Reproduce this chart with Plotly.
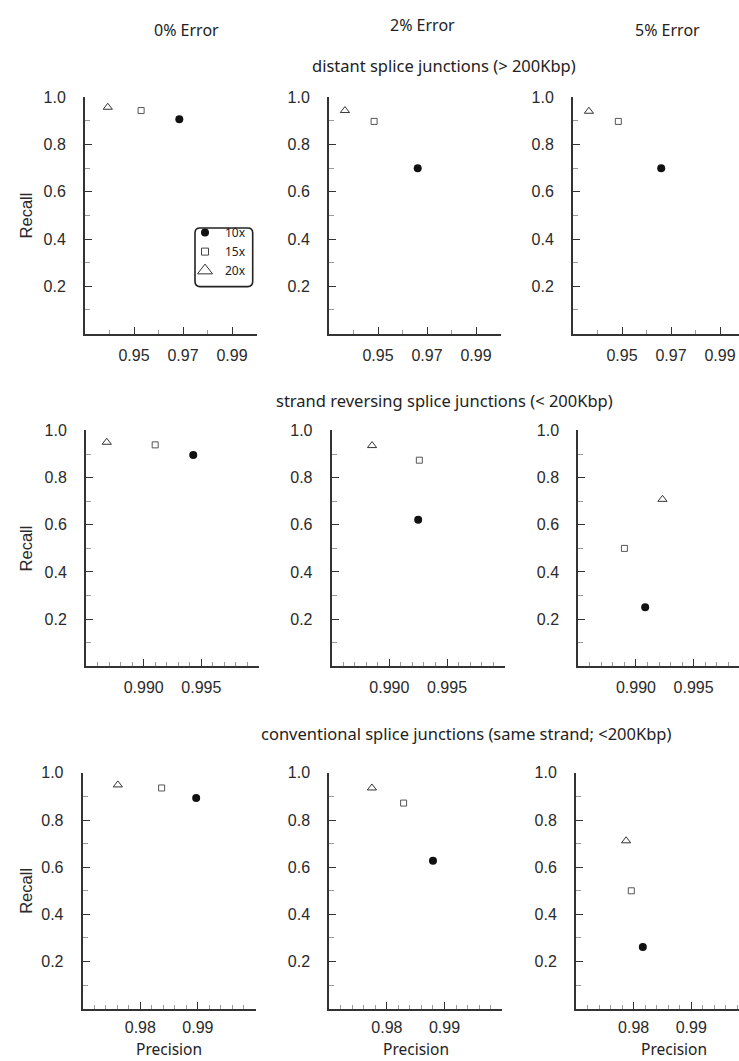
import plotly.graph_objects as go

# ---- data -------------------------------------------------------------
error_levels = ["0% Error", "2% Error", "5% Error"]
junction_types = [
    "distant splice junctions (> 200Kbp)",
    "strand reversing splice junctions (< 200Kbp)",
    "conventional splice junctions (same strand; <200Kbp)",
]
coverages = ["10x", "15x", "20x"]

# precision / recall per junction type (rows) and error level (columns)
precision_10x = [[0.9685, 0.9662, 0.9660], [0.9943, 0.9925, 0.9908], [0.9897, 0.9880, 0.9816]]
recall_10x = [[0.907, 0.700, 0.700], [0.896, 0.621, 0.250], [0.893, 0.627, 0.262]]
precision_15x = [[0.9529, 0.9484, 0.9485], [0.9910, 0.9926, 0.9890], [0.9837, 0.9829, 0.9796]]
recall_15x = [[0.944, 0.898, 0.898], [0.939, 0.874, 0.500], [0.936, 0.872, 0.500]]
precision_20x = [[0.9393, 0.9365, 0.9365], [0.9868, 0.9885, 0.9923], [0.9761, 0.9774, 0.9787]]
recall_20x = [[0.958, 0.944, 0.941], [0.950, 0.936, 0.708], [0.949, 0.936, 0.712]]

# x tick labels per row
x_major = [[0.95, 0.97, 0.99, 1.00], [0.990, 0.995, 1.000], [0.98, 0.99, 1.00]]
x_major_text = [["0.95", "0.97", "0.99", ""], ["0.990", "0.995", ""], ["0.98", "0.99", ""]]
x_minor = [
    [0.94, 0.96, 0.98],
    [0.986, 0.987, 0.988, 0.989, 0.991, 0.992, 0.993, 0.994, 0.996, 0.997, 0.998, 0.999],
    [0.972, 0.974, 0.976, 0.978, 0.982, 0.984, 0.986, 0.988, 0.992, 0.994, 0.996, 0.998],
]
x_start = [0.93, 0.985, 0.97]
x_span = [0.07, 0.015, 0.03]
y_major = [0.2, 0.4, 0.6, 0.8, 1.0]
y_major_text = ["0.2", "0.4", "0.6", "0.8", "1.0"]
y_minor = [0.1, 0.3, 0.5, 0.7, 0.9]

# ---- page geometry (pixels) -------------------------------------------
W, H = 739, 1061
# left pixel edge of each plot area, and pixels per precision unit
col_left = [[85, 329, 573], [86, 331.7, 578.3], [82.7, 329.3, 576]]
px_per_unit = [2450, 11530, 5760]
row_top = [90, 425.7, 770.7]
row_bottom = [328, 663.3, 1008.3]
x_label_standoff = [6, 6, 3]

AXIS = "#333333"
TICKFONT = dict(family="Liberation Sans, Arial, sans-serif", size=16, color="#2a2a2a")
TEXTFONT = dict(family="Noto Sans, Open Sans, sans-serif", size=16.5, color="#222222")

fig = go.Figure()
layout = dict(
    width=W, height=H,
    margin=dict(l=0, r=0, t=0, b=0),
    paper_bgcolor="white", plot_bgcolor="white",
    showlegend=True,
)

series = [
    ("10x", precision_10x, recall_10x, dict(symbol="circle", size=8, color="#111111")),
    ("15x", precision_15x, recall_15x,
     dict(symbol="square-open", size=6, color="#555555", line=dict(width=1))),
    ("20x", precision_20x, recall_20x,
     dict(symbol="triangle-up-open", size=8, color="#333333", line=dict(width=1))),
]

for r in range(3):
    for c in range(3):
        k = r * 3 + c + 1
        xname = "xaxis" if k == 1 else f"xaxis{k}"
        yname = "yaxis" if k == 1 else f"yaxis{k}"
        xs = "x" if k == 1 else f"x{k}"
        ys = "y" if k == 1 else f"y{k}"

        left = col_left[r][c]
        right = min(left + x_span[r] * px_per_unit[r], W)
        x_end = x_start[r] + (right - left) / px_per_unit[r]

        layout[xname] = dict(
            domain=[left / W, right / W], range=[x_start[r], x_end], anchor=ys,
            showline=True, linecolor=AXIS, linewidth=2,
            ticks="inside", ticklen=7, tickwidth=1.3, tickcolor=AXIS,
            tickvals=x_major[r], ticktext=x_major_text[r],
            minor=dict(tickvals=x_minor[r], ticks="inside", ticklen=4,
                       tickwidth=1, tickcolor="#9a9a9a", showgrid=False),
            tickfont=TICKFONT, ticklabelstandoff=x_label_standoff[r],
            showgrid=False, zeroline=False, fixedrange=True,
        )
        layout[yname] = dict(
            domain=[1 - row_bottom[r] / H, 1 - row_top[r] / H], range=[0, 1], anchor=xs,
            showline=True, linecolor=AXIS, linewidth=2,
            ticks="inside", ticklen=7, tickwidth=1.3, tickcolor=AXIS,
            tickvals=y_major, ticktext=y_major_text,
            minor=dict(tickvals=y_minor, ticks="inside", ticklen=5,
                       tickwidth=1, tickcolor="#9a9a9a", showgrid=False),
            tickfont=TICKFONT, ticklabelstandoff=14,
            showgrid=False, zeroline=False, fixedrange=True,
        )

        for name, prec, rec, marker in series:
            fig.add_trace(go.Scatter(
                x=[prec[r][c]], y=[rec[r][c]], mode="markers",
                marker=marker, xaxis=xs, yaxis=ys, showlegend=False,
                hovertemplate=f"{name}<br>Precision %{{x}}<br>Recall %{{y}}<extra></extra>",
            ))

# legend entries (keys only)
legend_markers = [
    dict(symbol="circle", size=8, color="#111111"),
    dict(symbol="square-open", size=7, color="#444444", line=dict(width=1)),
    dict(symbol="triangle-up-open", size=13, color="#333333", line=dict(width=1)),
]
for name, marker in zip(coverages, legend_markers):
    fig.add_trace(go.Scatter(x=[None], y=[None], mode="markers", marker=marker,
                             name=name, showlegend=True))

lg_left, lg_top, lg_right, lg_bottom = 195, 221.7, 252.7, 280.7
layout["legend"] = dict(
    x=(lg_left - 10) / W, y=1 - (lg_top - 10) / H, xanchor="left", yanchor="top",
    bgcolor="rgba(0,0,0,0)", borderwidth=0,
    font=dict(family="Noto Sans, Open Sans, sans-serif", size=12, color="#222222"),
    itemwidth=30, tracegroupgap=0,
)

# rounded frame around the legend
rad = 5
x0, x1 = lg_left / W, lg_right / W
y0, y1 = 1 - lg_bottom / H, 1 - lg_top / H
rx, ry = rad / W, rad / H
path = (f"M {x0 + rx},{y1} L {x1 - rx},{y1} Q {x1},{y1} {x1},{y1 - ry} "
        f"L {x1},{y0 + ry} Q {x1},{y0} {x1 - rx},{y0} "
        f"L {x0 + rx},{y0} Q {x0},{y0} {x0},{y0 + ry} "
        f"L {x0},{y1 - ry} Q {x0},{y1} {x0 + rx},{y1} Z")
layout["shapes"] = [dict(type="path", xref="paper", yref="paper", path=path,
                         line=dict(color="#222222", width=1.6))]

# column headers, row headers, axis titles
annotations = []
header_pos = [(186, 22), (422, 17), (667, 22)]
for text, (px, py) in zip(error_levels, header_pos):
    annotations.append(dict(text=text, x=px / W, y=1 - py / H, xref="paper", yref="paper",
                            xanchor="center", yanchor="middle", showarrow=False,
                            font=dict(TEXTFONT, size=16)))
row_title_pos = [(444, 58), (444, 395), (466, 731)]
for text, (px, py) in zip(junction_types, row_title_pos):
    annotations.append(dict(text=text, x=px / W, y=1 - py / H, xref="paper", yref="paper",
                            xanchor="center", yanchor="middle", showarrow=False, font=TEXTFONT))
for r in range(3):
    mid = (row_top[r] + row_bottom[r]) / 2
    annotations.append(dict(text="Recall", x=26 / W, y=1 - mid / H, xref="paper", yref="paper",
                            xanchor="center", yanchor="middle", textangle=-90, showarrow=False,
                            font=dict(family="Liberation Sans, Arial, sans-serif", size=16.5,
                                      color="#2a2a2a")))
for px in [169, 416, 674]:
    annotations.append(dict(text="Precision", x=px / W, y=0, xref="paper", yref="paper",
                            xanchor="center", yanchor="bottom", showarrow=False, borderpad=0,
                            font=dict(family="Noto Sans, Open Sans, sans-serif", size=15.5,
                                      color="#222222")))
layout["annotations"] = annotations

fig.update_layout(**layout)
fig.write_html("out.html")
